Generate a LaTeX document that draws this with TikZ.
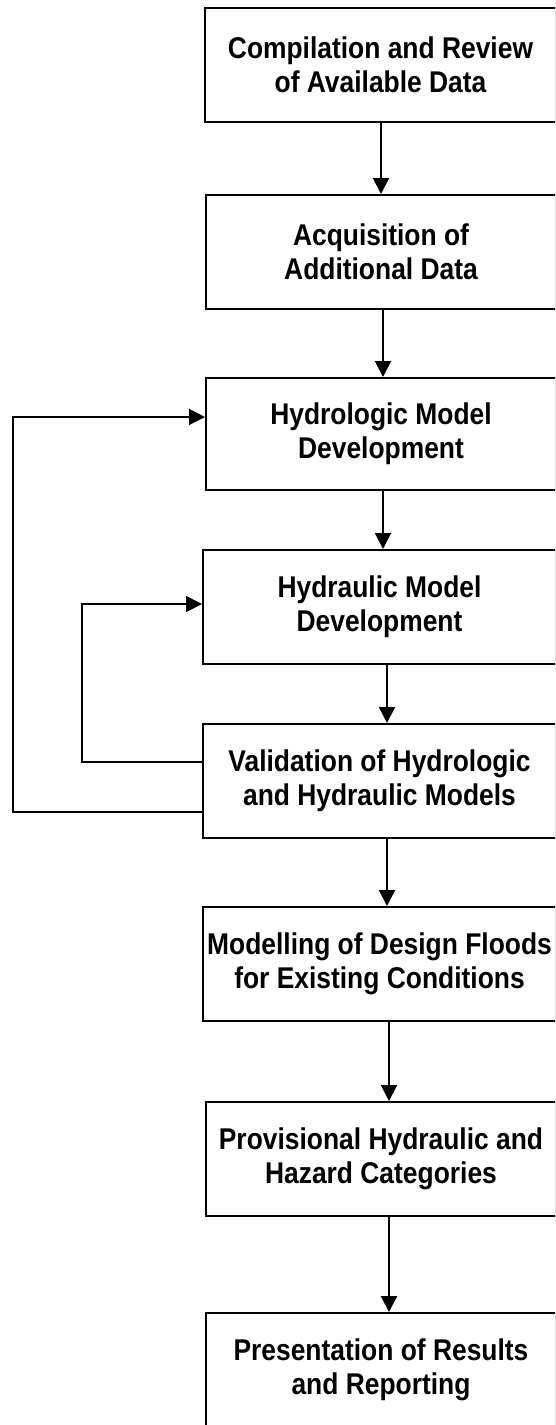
\documentclass[tikz,border=0pt]{standalone}
\usepackage{fontspec}
\newfontfamily\boxfont[FakeStretch=0.88]{Liberation Sans}
\usetikzlibrary{arrows.meta}
\begin{document}
\begin{tikzpicture}[x=1pt,y=-1pt,
  stepbox/.style={draw, line width=2pt, minimum width=352pt, minimum height=114pt,
    inner sep=0pt, align=center, font=\boxfont\bfseries\fontsize{30}{34}\selectfont},
  arr/.style={line width=2pt, -{Triangle[length=16pt,width=16pt]}},
  fb/.style={line width=1.8pt, -{Triangle[length=16pt,width=16pt]}}]
\useasboundingbox (0,0) rectangle (555,1425);
\clip (0,0) rectangle (555,1425);
\node[stepbox, minimum width=351pt] (b1) at (380.5,65) {Compilation and Review\\of Available Data};
\node[stepbox, minimum width=350pt] (b2) at (381,252) {Acquisition of\\Additional Data};
\node[stepbox, minimum width=350pt, minimum height=112pt] (b3) at (381,434) {Hydrologic Model\\Development};
\node[stepbox, minimum width=353pt] (b4) at (379.5,607) {Hydraulic Model\\Development};
\node[stepbox, minimum width=353pt] (b5) at (379.5,781) {Validation of Hydrologic\\and Hydraulic Models};
\node[stepbox, minimum width=353pt] (b6) at (379.5,964) {Modelling of Design Floods\\for Existing Conditions};
\node[stepbox, minimum width=350pt] (b7) at (381,1159) {Provisional Hydraulic and\\Hazard Categories};
\node[stepbox, minimum width=350pt] (b8) at (381,1370) {Presentation of Results\\and Reporting};
\coordinate (a1) at (381,0);
\coordinate (a2) at (383,0);
\coordinate (a3) at (383,0);
\coordinate (a4) at (387,0);
\coordinate (a5) at (387,0);
\coordinate (a6) at (389,0);
\coordinate (a7) at (389,0);
\draw[arr] (b1.south -| a1) -- (b2.north -| a1);
\draw[arr] (b2.south -| a2) -- (b3.north -| a2);
\draw[arr] (b3.south -| a3) -- (b4.north -| a3);
\draw[arr] (b4.south -| a4) -- (b5.north -| a4);
\draw[arr] (b5.south -| a5) -- (b6.north -| a5);
\draw[arr] (b6.south -| a6) -- (b7.north -| a6);
\draw[arr] (b7.south -| a7) -- (b8.north -| a7);
% feedback loops
\coordinate (L1) at (13,0);
\coordinate (L2) at (82,0);
\coordinate (o1) at ([yshift=-31pt]b5.west);
\coordinate (o2) at ([yshift=17pt]b3.west);
\coordinate (i1) at ([yshift=19pt]b5.west);
\coordinate (i2) at ([yshift=3pt]b4.west);
\draw[fb] (o1) -- (o1 -| L1) |- (o2);
\draw[fb] (i1) -- (i1 -| L2) |- (i2);
\end{tikzpicture}
\end{document}
